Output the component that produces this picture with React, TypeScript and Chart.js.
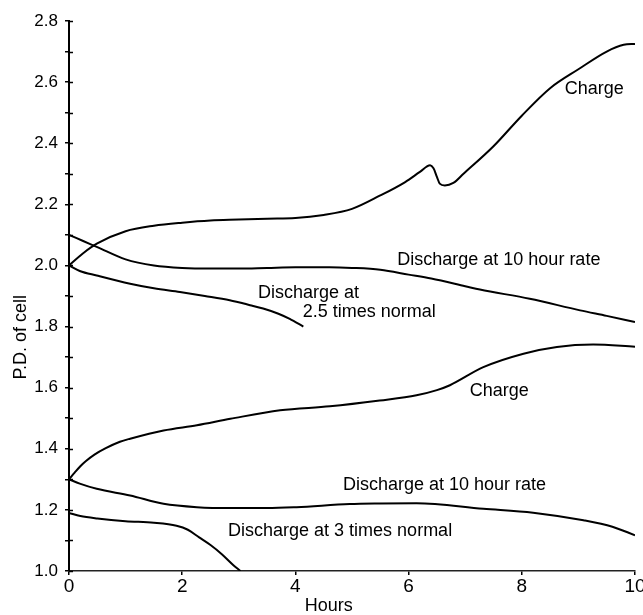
import React, { useEffect, useRef } from 'react';
import { Chart, registerables } from 'chart.js';

Chart.register(...registerables);

const FONT = '"Liberation Sans", Arial, sans-serif';

// Upper cell curves
const chargeHighHours = [0, 0.25, 0.5, 1.0, 1.5, 2.0, 2.5, 3.0, 3.5, 4.0, 4.5, 5.0, 5.5, 5.94, 6.2, 6.38, 6.44, 6.5, 6.55, 6.64, 6.79, 6.97, 7.5, 8.0, 8.5, 9.0, 9.5, 9.8, 10.0];
const chargeHighVolts = [2.0, 2.04, 2.072, 2.112, 2.13, 2.14, 2.147, 2.15, 2.153, 2.155, 2.165, 2.185, 2.229, 2.273, 2.306, 2.328, 2.318, 2.29, 2.268, 2.262, 2.27, 2.3, 2.39, 2.49, 2.58, 2.642, 2.7, 2.722, 2.725];

const dischargeHighHours = [0, 0.25, 0.5, 1.0, 1.5, 2.0, 2.5, 3.0, 3.5, 4.0, 4.6, 5.0, 5.5, 6.0, 6.4, 7.0, 7.26, 8.14, 9.03, 9.5, 10.0];
const dischargeHighVolts = [2.1, 2.08, 2.06, 2.02, 2.0, 1.992, 1.99, 1.99, 1.992, 1.994, 1.994, 1.992, 1.986, 1.97, 1.957, 1.932, 1.921, 1.891, 1.853, 1.835, 1.815];

const discharge25Hours = [0, 0.19, 0.49, 1.08, 1.5, 1.96, 2.4, 2.84, 3.2, 3.43, 3.7, 3.9, 4.14];
const discharge25Volts = [2.0, 1.982, 1.967, 1.94, 1.925, 1.913, 1.9, 1.886, 1.87, 1.859, 1.842, 1.825, 1.8];

// Lower cell curves
const chargeLowHours = [0, 0.1, 0.2, 0.3, 0.45, 0.65, 0.9, 1.08, 1.67, 2.26, 2.85, 3.73, 4.61, 5.49, 6.14, 6.5, 6.73, 7.32, 8.03, 8.62, 9.26, 10.0];
const chargeLowVolts = [1.3, 1.322, 1.343, 1.36, 1.381, 1.402, 1.423, 1.433, 1.46, 1.477, 1.498, 1.526, 1.539, 1.558, 1.575, 1.592, 1.608, 1.667, 1.711, 1.733, 1.741, 1.734];

const dischargeLowHours = [0, 0.19, 0.49, 1.08, 1.67, 2.26, 2.85, 3.5, 4.02, 4.96, 5.49, 6.14, 7.32, 8.2, 9.09, 9.6, 10.0];
const dischargeLowVolts = [1.3, 1.286, 1.269, 1.247, 1.22, 1.209, 1.206, 1.206, 1.209, 1.219, 1.221, 1.222, 1.204, 1.191, 1.166, 1.145, 1.117];

const discharge3Hours = [0, 0.2, 0.5, 1.0, 1.5, 1.9, 2.1, 2.3, 2.5, 2.7, 2.9, 3.03];
const discharge3Volts = [1.19, 1.18, 1.172, 1.163, 1.158, 1.148, 1.135, 1.11, 1.085, 1.055, 1.02, 1.0];

// Curve annotations (text, left edge in hours, vertical centre in volts)
const curveLabelTexts = [
  'Charge',
  'Discharge at 10 hour rate',
  'Discharge at',
  '2.5 times normal',
  'Charge',
  'Discharge at 10 hour rate',
  'Discharge at 3 times normal',
];
const curveLabelHours = [8.76, 5.8, 3.34, 4.13, 7.08, 4.84, 2.81];
const curveLabelVolts = [2.576, 2.018, 1.91, 1.848, 1.588, 1.28, 1.13];

const xTitle = 'Hours';
const xTitleHours = 4.59;
const yTitle = 'P.D. of cell';
const yTitleVolts = 1.765;

const xMin = 0;
const xMax = 10;
const xStep = 2;
const yMin = 1.0;
const yMax = 2.8;
const yStep = 0.1;

const toPoints = (xs: number[], ys: number[]) => xs.map((x, i) => ({ x, y: ys[i] }));

const annotationPlugin = {
  id: 'curveAnnotations',
  afterDraw(chart: any) {
    const { ctx, chartArea, scales } = chart;
    const xs = scales.x;
    const ys = scales.y;
    ctx.save();
    // inner halves of the y-axis cross ticks
    ctx.strokeStyle = '#000';
    ctx.lineWidth = 1.5;
    ys.ticks.forEach((t: any) => {
      const py = Math.round(ys.getPixelForValue(t.value)) + 0.5;
      ctx.beginPath();
      ctx.moveTo(chartArea.left, py);
      ctx.lineTo(chartArea.left + 4, py);
      ctx.stroke();
    });
    ctx.fillStyle = '#000';
    ctx.font = `18px ${FONT}`;
    ctx.textAlign = 'left';
    ctx.textBaseline = 'middle';
    curveLabelTexts.forEach((t, i) => {
      ctx.fillText(t, xs.getPixelForValue(curveLabelHours[i]), ys.getPixelForValue(curveLabelVolts[i]));
    });
    ctx.textAlign = 'center';
    ctx.fillText(xTitle, xs.getPixelForValue(xTitleHours), chartArea.bottom + 35);
    ctx.translate(21, ys.getPixelForValue(yTitleVolts));
    ctx.rotate(-Math.PI / 2);
    ctx.fillText(yTitle, 0, 0);
    ctx.restore();
  },
};

export default function App() {
  const canvasRef = useRef<HTMLCanvasElement | null>(null);

  useEffect(() => {
    const canvas = canvasRef.current;
    if (!canvas) return;
    const line = (xs: number[], ys: number[]) => ({
      data: toPoints(xs, ys),
      borderColor: '#000',
      borderWidth: 2,
      pointRadius: 0,
      fill: false,
      cubicInterpolationMode: 'monotone' as const,
    });
    const chart = new Chart(canvas, {
      type: 'line',
      data: {
        datasets: [
          line(chargeHighHours, chargeHighVolts),
          line(dischargeHighHours, dischargeHighVolts),
          line(discharge25Hours, discharge25Volts),
          line(chargeLowHours, chargeLowVolts),
          line(dischargeLowHours, dischargeLowVolts),
          line(discharge3Hours, discharge3Volts),
        ],
      },
      options: {
        animation: false,
        responsive: false,
        devicePixelRatio: 1,
        layout: { padding: { left: 0, top: 21, right: 8, bottom: 0 } },
        plugins: { legend: { display: false }, tooltip: { enabled: false } },
        scales: {
          x: {
            type: 'linear',
            min: xMin,
            max: xMax,
            border: { display: true, color: '#222', width: 1.5 },
            grid: { drawOnChartArea: false, drawTicks: true, tickLength: 4, color: '#000', lineWidth: 1.5 },
            ticks: { stepSize: xStep, color: '#000', padding: 0, font: { family: FONT, size: 19 } },
            afterFit: (s: any) => {
              s.height = 44;
              s.paddingLeft = 0;
              s.paddingRight = 0;
            },
          },
          y: {
            type: 'linear',
            min: yMin,
            max: yMax,
            border: { display: true, color: '#000', width: 2 },
            grid: { drawOnChartArea: false, drawTicks: true, tickLength: 4, color: '#000', lineWidth: 1.5 },
            ticks: {
              stepSize: yStep,
              autoSkip: false,
              color: '#000',
              padding: 7,
              font: { family: FONT, size: 17 },
              callback: (v: any) => (Math.round(Number(v) * 10) % 2 === 0 ? Number(v).toFixed(1) : ''),
            },
            afterFit: (s: any) => {
              s.width = 69;
              s.paddingTop = 0;
              s.paddingBottom = 0;
            },
          },
        },
      },
      plugins: [annotationPlugin],
    });
    return () => chart.destroy();
  }, []);

  return (
    <div style={{ position: 'absolute', left: 0, top: 0, width: 643, height: 615, background: '#fff' }}>
      <canvas ref={canvasRef} width={643} height={615} />
    </div>
  );
}
